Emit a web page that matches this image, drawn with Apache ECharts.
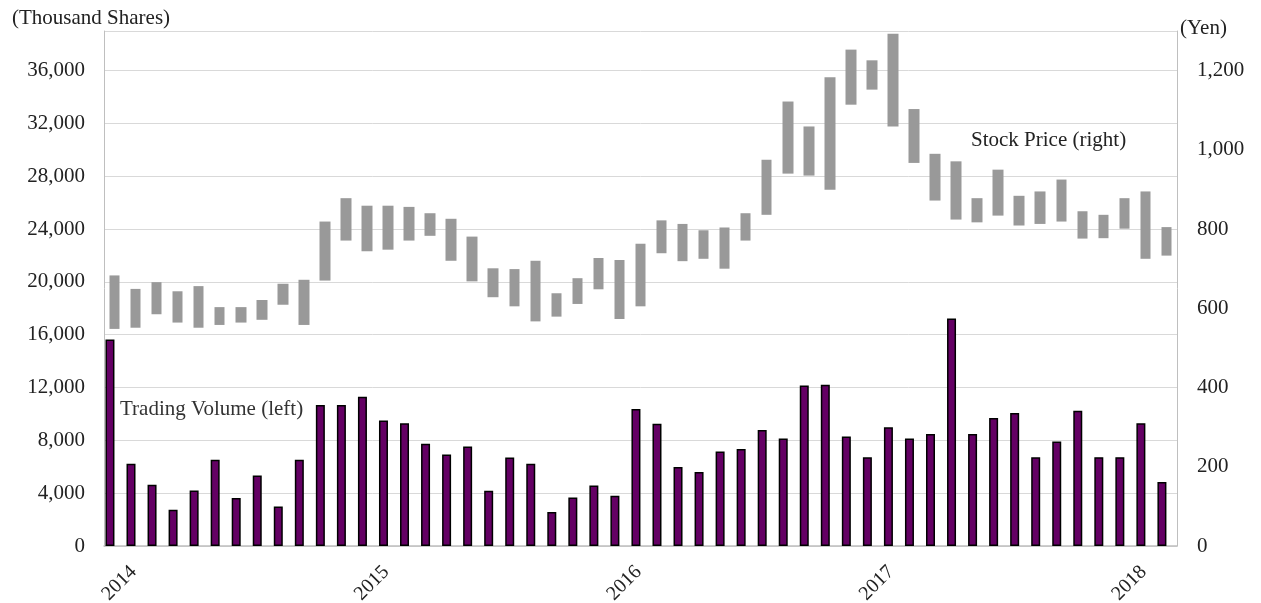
<!DOCTYPE html>
<html>
<head>
<meta charset="utf-8">
<title>Trading Volume and Stock Price</title>
<script src="https://cdn.jsdelivr.net/npm/echarts@6/dist/echarts.min.js"></script>
<style>
  html, body { margin: 0; padding: 0; background: #fff; }
  #chart { width: 1261px; height: 603px; }
</style>
</head>
<body>
<div id="chart"></div>
<script>
// months, Jan 2014 - Mar 2018
const months = [
  "2014-01", "2014-02", "2014-03", "2014-04", "2014-05", "2014-06", "2014-07", "2014-08", "2014-09", "2014-10", "2014-11", "2014-12",
  "2015-01", "2015-02", "2015-03", "2015-04", "2015-05", "2015-06", "2015-07", "2015-08", "2015-09", "2015-10", "2015-11", "2015-12",
  "2016-01", "2016-02", "2016-03", "2016-04", "2016-05", "2016-06", "2016-07", "2016-08", "2016-09", "2016-10", "2016-11", "2016-12",
  "2017-01", "2017-02", "2017-03", "2017-04", "2017-05", "2017-06", "2017-07", "2017-08", "2017-09", "2017-10", "2017-11", "2017-12",
  "2018-01", "2018-02", "2018-03"
];

// trading volume (thousand shares)
const volume = [
  15640, 6230, 4640, 2750, 4210, 6530, 3640, 5340, 3000, 6530, 10680, 10680,
  11310, 9500, 9300, 7740, 6930, 7530, 4190, 6700, 6230, 2580, 3680, 4590,
  3810, 10380, 9250, 5980, 5600, 7160, 7340, 8790, 8140, 12150, 12210, 8290,
  6730, 9000, 8140, 8490, 17220, 8490, 9700, 10080, 6730, 7910, 10250, 6730,
  6730, 9300, 4850
];

// monthly price range (yen): box top / bottom
const priceHigh = [
  683, 649, 666, 643, 656, 603, 603, 621, 662, 672, 819, 878,
  859, 859, 856, 840, 826, 781, 701, 699, 720, 638, 676, 727,
  722, 763, 822, 813, 797, 804, 840, 975, 1122, 1059, 1183, 1253,
  1226, 1293, 1103, 990, 971, 878, 950, 884, 895, 925, 845, 836,
  878, 895, 805
];
const priceLow = [
  548, 551, 585, 564, 551, 558, 564, 571, 609, 558, 670, 771,
  744, 748, 771, 783, 720, 668, 628, 605, 567, 579, 611, 648,
  573, 605, 739, 719, 725, 700, 771, 836, 940, 935, 899, 1114,
  1152, 1059, 967, 872, 824, 817, 834, 809, 813, 819, 776, 777,
  801, 725, 733
];

const volTicks = { min: 0, max: 39000, step: 4000 };
const priceTicks = { min: 0, max: 1300, step: 200 };

const font = "'Liberation Serif', 'Times New Roman', serif";
const fmt = (v) => v.toLocaleString("en-US");

const candles = priceLow.map((lo, i) => [lo, priceHigh[i], lo, priceHigh[i]]);

const myChart = echarts.init(document.getElementById("chart"));

const option = {
  animation: false,
  backgroundColor: "#fff",
  grid: { left: 104, right: 84, top: 31, bottom: 57, outerBoundsMode: "none" },
  xAxis: {
    type: "category",
    data: months,
    boundaryGap: true,
    axisLine: { lineStyle: { color: "#bfbfbf", width: 1.5 } },
    axisTick: { show: false },
    axisLabel: {
      interval: 11,
      rotate: 45,
      align: "center",
      verticalAlign: "middle",
      margin: 42,
      padding: [0, 0, 0, 14],
      fontFamily: font,
      fontSize: 20,
      color: "#222",
      formatter: (v) => v.slice(0, 4),
    },
  },
  yAxis: [
    {
      type: "value",
      min: volTicks.min,
      max: volTicks.max,
      interval: volTicks.step,
      axisLine: { show: true, lineStyle: { color: "#bfbfbf" } },
      axisTick: { show: false },
      splitLine: { lineStyle: { color: "#d9d9d9", width: 1 } },
      axisLabel: {
        showMaxLabel: false,
        margin: 19,
        fontFamily: font,
        fontSize: 21,
        color: "#222",
        formatter: fmt,
      },
    },
    {
      type: "value",
      min: priceTicks.min,
      max: priceTicks.max,
      interval: priceTicks.step,
      position: "right",
      axisLine: { show: true, lineStyle: { color: "#bfbfbf" } },
      axisTick: { show: false },
      splitLine: { show: false },
      axisLabel: {
        showMaxLabel: false,
        margin: 20,
        fontFamily: font,
        fontSize: 21,
        color: "#222",
        formatter: fmt,
      },
    },
  ],
  graphic: [
    { type: "text", left: 12, top: 8, style: { text: "(Thousand Shares)", font: "21px " + font, fill: "#222" } },
    { type: "text", left: 1180, top: 18, style: { text: "(Yen)", font: "21px " + font, fill: "#222" } },
    { type: "text", left: 971, top: 130, style: { text: "Stock Price (right)", font: "21px " + font, fill: "#222" } },
    { type: "text", left: 120, top: 399, style: { text: "Trading Volume (left)", font: "21px " + font, fill: "#333" } },
  ],
  series: [
    {
      name: "Stock Price (right)",
      type: "candlestick",
      yAxisIndex: 1,
      barWidth: 11,
      data: candles,
      itemStyle: {
        color: "#999999",
        color0: "#999999",
        borderColor: "#999999",
        borderColor0: "#999999",
        borderWidth: 0,
      },
      z: 2,
    },
    {
      name: "Trading Volume (left)",
      type: "bar",
      yAxisIndex: 0,
      barWidth: 9,
      data: volume,
      itemStyle: { color: "#640064", borderColor: "#000", borderWidth: 1.5 },
      z: 3,
    },
    {
      // empty spacer so the volume bars sit left of the month centre
      name: "spacer",
      type: "bar",
      yAxisIndex: 0,
      barWidth: 1,
      barGap: "90%",
      data: [],
      silent: true,
    },
  ],
};

myChart.setOption(option);
window.addEventListener("resize", () => myChart.resize());
</script>
</body>
</html>
